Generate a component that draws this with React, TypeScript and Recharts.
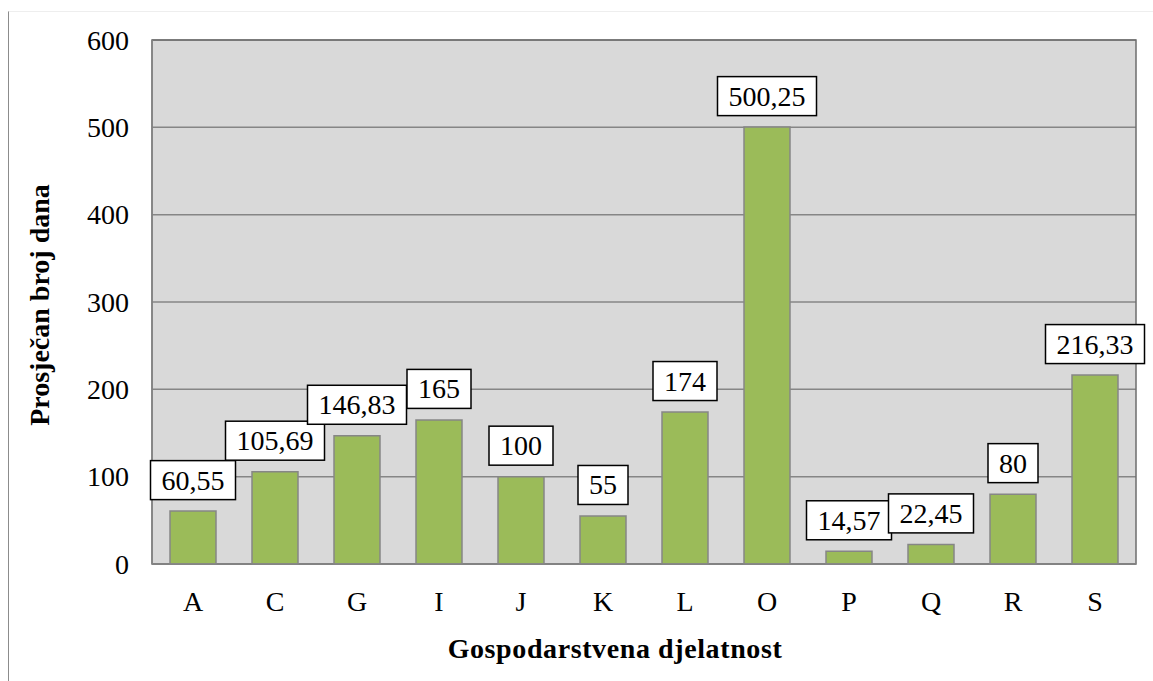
import { Bar, BarChart, CartesianGrid, LabelList, ReferenceArea, XAxis, YAxis, Label } from "recharts";

const categories = ["A", "C", "G", "I", "J", "K", "L", "O", "P", "Q", "R", "S"];
const values = [60.55, 105.69, 146.83, 165, 100, 55, 174, 500.25, 14.57, 22.45, 80, 216.33];
const labels = ["60,55", "105,69", "146,83", "165", "100", "55", "174", "500,25", "14,57", "22,45", "80", "216,33"];
const yTicks = [0, 100, 200, 300, 400, 500, 600];

const data = categories.map((c, i) => ({ cat: c, value: values[i], label: labels[i] }));

const FONT = "Liberation Serif";
const FS = 28;

function textWidth(s: string) {
    let w = 0;
    for (const ch of s) w += ch === "," ? FS * 0.25 : FS * 0.5;
    return w;
}

function BoxLabel(props: any) {
    const { x, y, width, value } = props;
    const w = textWidth(String(value)) + 22;
    const h = 39;
    const cx = x + width / 2;
    const cy = y - 31;
    return (
        <g>
            <rect x={cx - w / 2} y={cy - h / 2} width={w} height={h} fill="#ffffff" stroke="#000000" strokeWidth={1.5} />
            <text x={cx} y={cy} dy="0.34em" textAnchor="middle" style={{ fontFamily: FONT, fontSize: FS }} fill="#000">
                {value}
            </text>
        </g>
    );
}

function XTick(props: any) {
    const { x, y, payload } = props;
    return (
        <text x={x} y={y + 27} textAnchor="middle" style={{ fontFamily: FONT, fontSize: FS }} fill="#000">
            {payload.value}
        </text>
    );
}

function YTick(props: any) {
    const { x, y, payload } = props;
    return (
        <text x={x} y={y} dy="0.34em" textAnchor="end" style={{ fontFamily: FONT, fontSize: FS }} fill="#000">
            {payload.value}
        </text>
    );
}

export default function App() {
    return (
        <div style={{ position: "absolute", left: 0, top: 0, width: 1153, height: 681, background: "#fff", fontFamily: FONT }}>
            <div style={{ position: "absolute", left: 8, top: 11, width: 1145, height: 670, borderLeft: "1.5px solid #8c8c8c", borderTop: "1px solid #eeeeee" }} />
            <BarChart
                width={1153}
                height={681}
                data={data}
                margin={{ top: 40, right: 17, left: 0, bottom: 0 }}
                barSize={46}
                style={{ position: "absolute", left: 0, top: 0 }}
            >
                <CartesianGrid vertical={false} fill="#d9d9d9" stroke="#868686" strokeWidth={1.5} />
                <XAxis
                    dataKey="cat"
                    height={117}
                    tickLine={false}
                    tickSize={0}
                    tickMargin={20}
                    axisLine={{ stroke: "#868686", strokeWidth: 1.5 }}
                    tick={<XTick />}
                    interval={0}
                >
                    <Label
                        content={() => (
                            <text x={615} y={658} textAnchor="middle" style={{ fontFamily: FONT, fontSize: FS, fontWeight: "bold", letterSpacing: 0.6 }} fill="#000">
                                Gospodarstvena djelatnost
                            </text>
                        )}
                    />
                </XAxis>
                <YAxis
                    width={152}
                    domain={[0, 600]}
                    ticks={yTicks}
                    tickLine={false}
                    tickSize={0}
                    tickMargin={23}
                    axisLine={{ stroke: "#868686", strokeWidth: 1.5 }}
                    tick={<YTick />}
                >
                    <Label
                        content={(p: any) => {
                            const vb = p.viewBox || { x: 0, y: 40, width: 152, height: 524 };
                            const cx = vb.x + 39;
                            const cy = vb.y + vb.height / 2 + 3;
                            return (
                                <text
                                    x={cx}
                                    y={cy}
                                    transform={`rotate(-90, ${cx}, ${cy})`}
                                    textAnchor="middle"
                                    dy="0.34em"
                                    style={{ fontFamily: FONT, fontSize: FS, fontWeight: "bold" }}
                                    fill="#000"
                                >
                                    Prosječan broj dana
                                </text>
                            );
                        }}
                    />
                </YAxis>
                <ReferenceArea y1={0} y2={600} fill="none" stroke="#6e6e6e" strokeWidth={1.5} ifOverflow="extendDomain" />
                <Bar dataKey="value" fill="#9bbb59" stroke="#868686" strokeWidth={1.5} isAnimationActive={false}>
                    <LabelList dataKey="label" content={BoxLabel} />
                </Bar>
            </BarChart>
        </div>
    );
}
